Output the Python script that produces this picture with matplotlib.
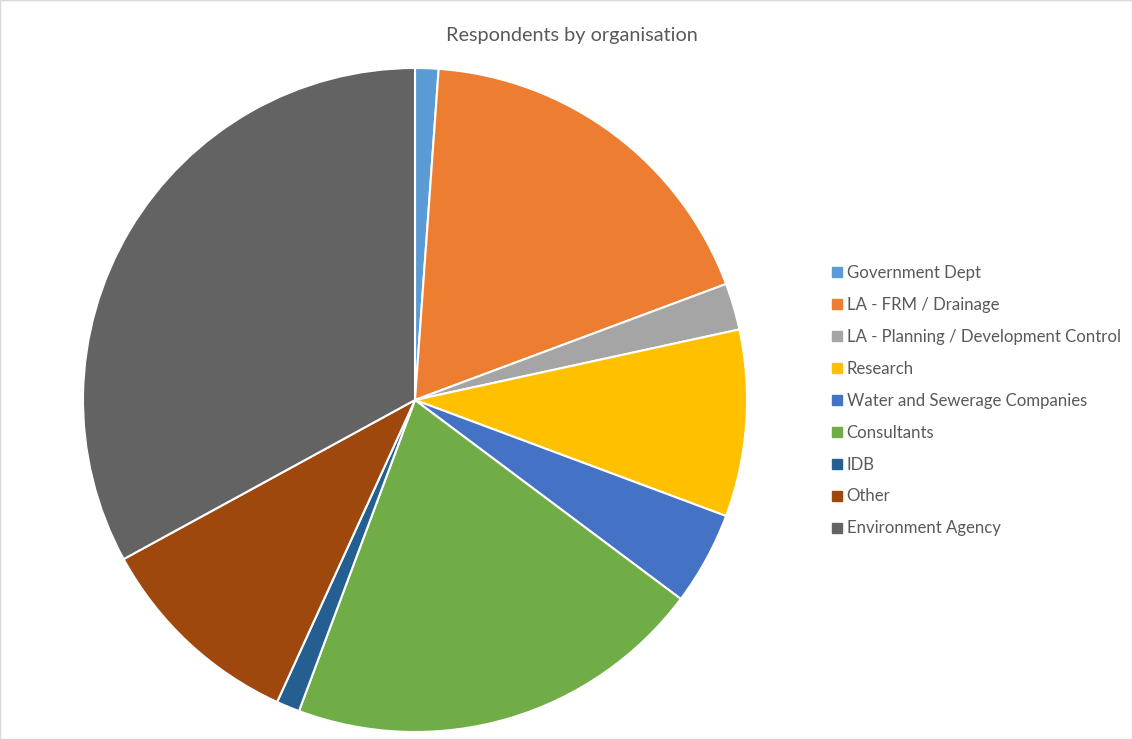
import matplotlib
matplotlib.use("Agg")
import matplotlib.pyplot as plt
from matplotlib.lines import Line2D
from matplotlib.patches import Rectangle

categories = ["Government Dept", "LA - FRM / Drainage", "LA - Planning / Development Control",
              "Research", "Water and Sewerage Companies", "Consultants", "IDB", "Other",
              "Environment Agency"]
values = [1, 16, 2, 8, 4, 18, 1, 9, 29]
colors = ["#5B9BD5", "#ED7D31", "#A5A5A5", "#FFC000", "#4472C4", "#70AD47", "#255E91",
          "#9E480E", "#636363"]

W, H = 1132, 739
fig = plt.figure(figsize=(W / 100, H / 100), dpi=100)
fig.patches.append(Rectangle((0, 0), 1, 1, transform=fig.transFigure, fill=False,
                             edgecolor="#D9D9D9", linewidth=1))

cx, cy, r = 415, 400, 332
ax = fig.add_axes([(cx - r) / W, (H - cy - r) / H, 2 * r / W, 2 * r / H])
wedges, _ = ax.pie(values, colors=colors, startangle=90, counterclock=False,
                   wedgeprops=dict(edgecolor="white", linewidth=1.5))
ax.set_xlim(-1, 1)
ax.set_ylim(-1, 1)
ax.set_aspect("equal")
ax.axis("off")

font = "Lato"
fig.text(572 / W, 1 - 36 / H, "Respondents by organisation", ha="center", va="center",
         fontsize=14.3, color="#595959", family=font)

handles = [Line2D([], [], marker="s", linestyle="none", markersize=7, color=c) for c in colors]
leg = fig.legend(handles, categories, loc="upper left", bbox_to_anchor=(824 / W, 1 - 258 / H),
                 frameon=False, prop=dict(family=font, size=12.1), labelcolor="#595959",
                 handletextpad=0.15, labelspacing=0.95, handlelength=0.8, borderaxespad=0)

fig.savefig("out.png", dpi=100)
